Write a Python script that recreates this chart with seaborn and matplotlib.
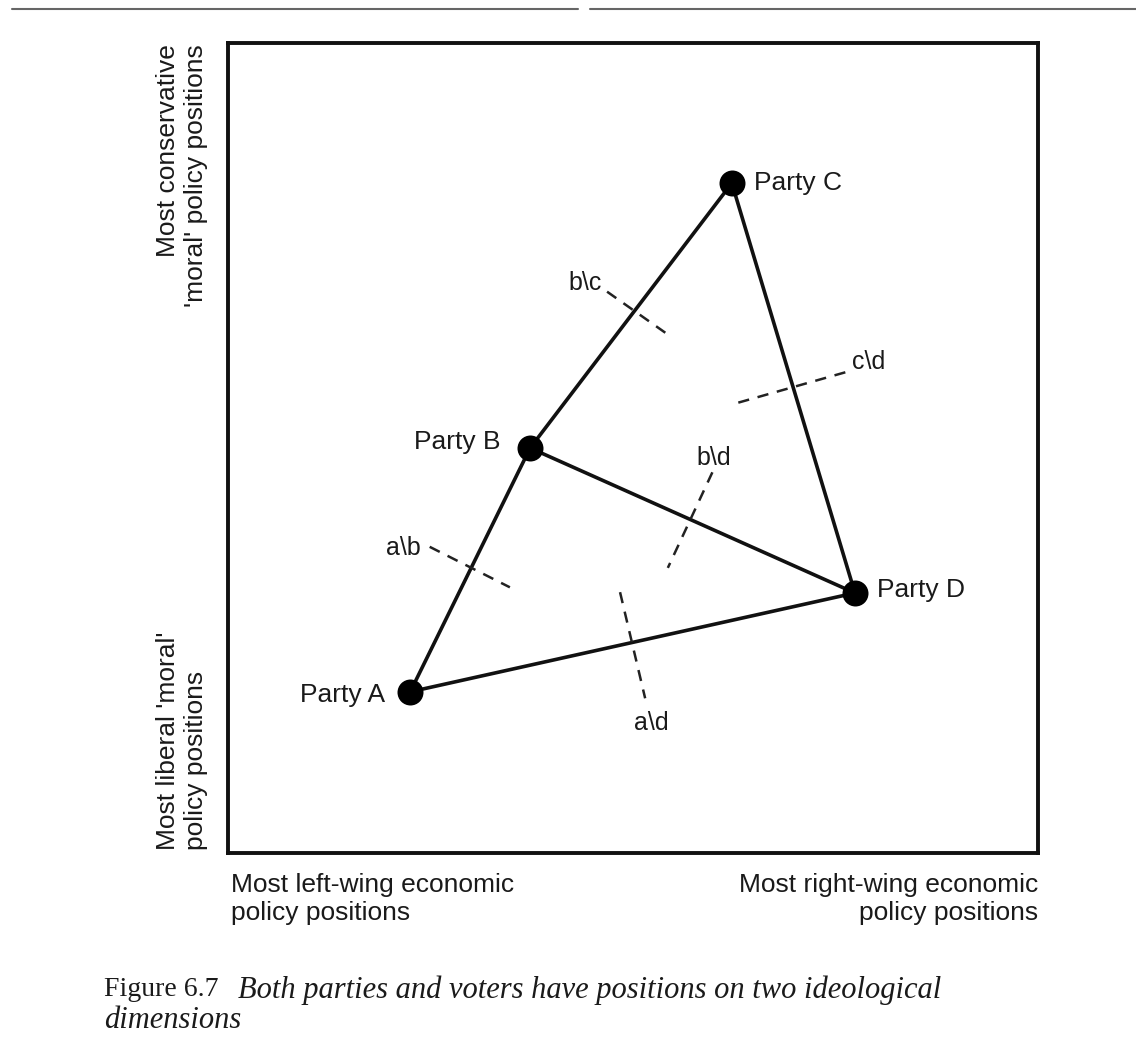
import matplotlib.pyplot as plt
import seaborn as sns
import pandas as pd
from matplotlib.lines import Line2D

# party positions: economic (left -> right), moral (liberal -> conservative), 0-100
parties = ["Party A", "Party B", "Party C", "Party D"]
economic = [22.5, 37.3, 62.2, 77.4]
moral = [19.9, 50.0, 82.7, 32.1]

# lines joining the parties
edge_from = ["Party A", "Party B", "Party C", "Party B", "Party A"]
edge_to = ["Party B", "Party C", "Party D", "Party D", "Party D"]

# dashed dividing lines between pairs of parties
divider_names = ["b\\c", "c\\d", "a\\b", "b\\d", "a\\d"]
divider_x0 = [46.8, 63.0, 24.9, 59.8, 48.4]
divider_y0 = [69.3, 55.6, 37.8, 47.0, 32.2]
divider_x1 = [54.6, 76.4, 34.8, 54.3, 51.5]
divider_y1 = [63.8, 59.4, 32.8, 35.2, 19.1]
divider_label_x = [44.1, 79.1, 21.6, 60.0, 52.2]
divider_label_y = [70.4, 60.6, 37.7, 48.8, 16.0]

df = pd.DataFrame({"party": parties, "economic": economic, "moral": moral})
pos = df.set_index("party")

sns.set_style("white")
plt.rcParams["font.family"] = ["Liberation Sans", "DejaVu Sans"]

INK = "#1a1a1a"
W, H = 1136, 1044
fig = plt.figure(figsize=(W / 100, H / 100), dpi=100)
ax = fig.add_axes([228 / W, (H - 853) / H, (1038 - 228) / W, (853 - 43) / H])
ax.set_xlim(0, 100)
ax.set_ylim(0, 100)
ax.set_xticks([])
ax.set_yticks([])
for s in ax.spines.values():
    s.set_linewidth(2.8)
    s.set_color("#111111")

# triangle / edges
for a, b in zip(edge_from, edge_to):
    ax.plot([pos.loc[a, "economic"], pos.loc[b, "economic"]],
            [pos.loc[a, "moral"], pos.loc[b, "moral"]],
            color="#111111", lw=2.6, solid_capstyle="round", zorder=2)

# dividing lines
for name, x0, y0, x1, y1, lx, ly in zip(divider_names, divider_x0, divider_y0,
                                         divider_x1, divider_y1,
                                         divider_label_x, divider_label_y):
    ax.plot([x0, x1], [y0, y1], color="#222222", lw=1.8, ls=(0, (4.5, 3.5)), zorder=2)
    ax.text(lx, ly, name, fontsize=18, ha="center", va="center", color=INK)

sns.scatterplot(data=df, x="economic", y="moral", s=300, color="black",
                edgecolor="black", zorder=3, ax=ax, legend=False)
ax.set_xlabel("")
ax.set_ylabel("")

label_offsets = {"Party A": (-18, -2, "right"), "Party B": (-21, 4, "right"),
                 "Party C": (16, 0, "left"), "Party D": (16, 2, "left")}
for p in parties:
    dx, dy, ha = label_offsets[p]
    ax.annotate(p, (pos.loc[p, "economic"], pos.loc[p, "moral"]),
                xytext=(dx, dy), textcoords="offset points",
                ha=ha, va="center", fontsize=19, color=INK)

# axis end labels
txt_kw = dict(fontsize=19, color=INK, linespacing=1.22)
fig.text(182 / W, 1 - 44 / H, "Most conservative\n'moral' policy positions",
         rotation=90, ha="center", va="top", multialignment="right", **txt_kw)
fig.text(182 / W, 1 - 850 / H, "Most liberal 'moral'\npolicy positions",
         rotation=90, ha="center", va="bottom", multialignment="left", **txt_kw)
fig.text(231 / W, 1 - 873 / H, "Most left-wing economic\npolicy positions",
         ha="left", va="top", multialignment="left", **txt_kw)
fig.text(1038 / W, 1 - 873 / H, "Most right-wing economic\npolicy positions",
         ha="right", va="top", multialignment="right", **txt_kw)

# caption
fig.text(104 / W, 1 - 990 / H, "Figure 6.7", family="Liberation Serif",
         fontsize=20, ha="left", va="center", color=INK)
fig.text(238 / W, 1 - 990 / H,
         "Both parties and voters have positions on two ideological",
         family="Liberation Serif", style="italic", fontsize=22,
         ha="left", va="center", color=INK)
fig.text(104 / W, 1 - 1020 / H, "dimensions", family="Liberation Serif",
         style="italic", fontsize=22, ha="left", va="center", color=INK)

# page rule at the top of the scan
fig.add_artist(Line2D([12 / W, 578 / W], [1 - 9 / H, 1 - 9 / H], color="#666666", lw=1.5))
fig.add_artist(Line2D([590 / W, 1.0], [1 - 9 / H, 1 - 9 / H], color="#666666", lw=1.5))

fig.savefig("out.png", dpi=100, facecolor="white")
